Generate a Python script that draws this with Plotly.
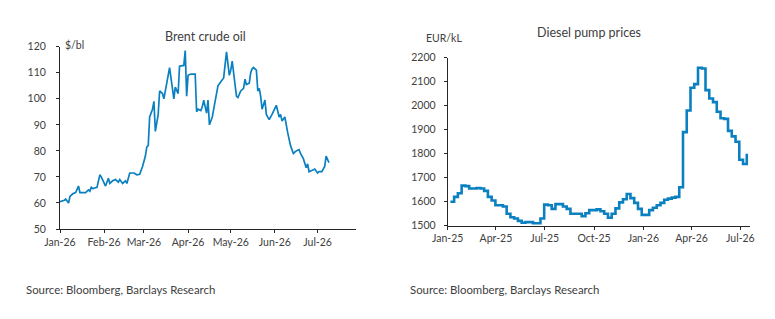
import plotly.graph_objects as go
import pandas as pd

# ---------------- Data ----------------
brent_dates = [
    "2026-01-01", "2026-01-04", "2026-01-05", "2026-01-07", "2026-01-08", "2026-01-10",
    "2026-01-12", "2026-01-14", "2026-01-15", "2026-01-17", "2026-01-19", "2026-01-21",
    "2026-01-22", "2026-01-23", "2026-01-24", "2026-01-27", "2026-01-29", "2026-01-30",
    "2026-02-02", "2026-02-04", "2026-02-05", "2026-02-07", "2026-02-09", "2026-02-11",
    "2026-02-12", "2026-02-14", "2026-02-16", "2026-02-17", "2026-02-19", "2026-02-22",
    "2026-02-24", "2026-02-26", "2026-02-28",
    "2026-03-02", "2026-03-03", "2026-03-04", "2026-03-05", "2026-03-07", "2026-03-08",
    "2026-03-09", "2026-03-11", "2026-03-12", "2026-03-14", "2026-03-15", "2026-03-18",
    "2026-03-19", "2026-03-21", "2026-03-22", "2026-03-23", "2026-03-25", "2026-03-26",
    "2026-03-29", "2026-03-30", "2026-03-31",
    "2026-04-01", "2026-04-03", "2026-04-06", "2026-04-07", "2026-04-08", "2026-04-10",
    "2026-04-11", "2026-04-12", "2026-04-14", "2026-04-15", "2026-04-16", "2026-04-18",
    "2026-04-19", "2026-04-22", "2026-04-24", "2026-04-26", "2026-04-28", "2026-04-30",
    "2026-05-01", "2026-05-02", "2026-05-05", "2026-05-06", "2026-05-08", "2026-05-10",
    "2026-05-11", "2026-05-12", "2026-05-14", "2026-05-15", "2026-05-16", "2026-05-17",
    "2026-05-19", "2026-05-20", "2026-05-21", "2026-05-22", "2026-05-23", "2026-05-25",
    "2026-05-26", "2026-05-28", "2026-05-30",
    "2026-06-02", "2026-06-04", "2026-06-05", "2026-06-06", "2026-06-08", "2026-06-10",
    "2026-06-12", "2026-06-14", "2026-06-16", "2026-06-18", "2026-06-19", "2026-06-21",
    "2026-06-23", "2026-06-24", "2026-06-25", "2026-06-27", "2026-06-29",
    "2026-07-01", "2026-07-02", "2026-07-04", "2026-07-06", "2026-07-07", "2026-07-08",
    "2026-07-09",
]
brent_values = [
    60.5, 61, 61.5, 60, 62.5, 63.5,
    64, 66.5, 64, 64, 64, 65,
    64.5, 66, 65.5, 66, 70.8, 70,
    66.5, 69.5, 67.5, 68.5, 69, 68,
    69, 67.5, 68.5, 67.5, 71.5, 71.5,
    70.8, 71, 74,
    78, 81.5, 82, 93, 96, 99,
    87.5, 94, 103, 102, 100, 108,
    112, 104, 100, 104.5, 102, 112.5,
    112.8, 118.5, 101,
    109, 109.5, 109.5, 95, 96, 95.5,
    97, 99.5, 94.5, 99.5, 90, 93,
    96, 105, 106.5, 108, 118, 109,
    111, 114.5, 101, 100.5, 103, 104,
    107.5, 105.5, 106, 110, 111.5, 112,
    111, 103, 104, 101, 96, 99.5,
    94, 92, 94,
    97.5, 93, 94, 91.5, 93, 87,
    82, 79, 80, 80.5, 79, 77,
    73.5, 75, 72, 72.5, 73,
    71.5, 72, 72, 74, 78, 76.5,
    75.5,
]

diesel_start = "2025-01-06"  # weekly observations (Mondays)
diesel_values = [
    1600, 1620, 1635, 1667, 1665, 1655, 1655, 1657, 1655, 1645,
    1620, 1605, 1585, 1585, 1580, 1550, 1535, 1530, 1520, 1512,
    1515, 1515, 1510, 1510, 1530, 1588, 1585, 1570, 1590, 1590,
    1580, 1570, 1550, 1550, 1550, 1540, 1552, 1565, 1565, 1568,
    1560, 1550, 1533, 1550, 1572, 1597, 1610, 1632, 1615, 1595,
    1570, 1545, 1545, 1565, 1575, 1585, 1595, 1608, 1613, 1617,
    1620, 1660, 1890, 1980, 2075, 2090, 2158, 2155, 2065, 2030,
    2015, 1975, 1948, 1945, 1895, 1872, 1850, 1775, 1757, 1800,
]
diesel_dates = pd.date_range(diesel_start, periods=len(diesel_values), freq="7D")

# ---------------- Style ----------------
W, H = 775, 319
BLUE = "#0a80c0"
TXT = "#404040"
AX = "#262626"
FONT = "Lato"

def px_x(x):
    return x / W

def px_y(y):
    return 1 - y / H

fig = go.Figure()
fig.add_trace(go.Scatter(x=brent_dates, y=brent_values, mode="lines",
                         line=dict(color=BLUE, width=1.7), xaxis="x", yaxis="y",
                         showlegend=False, hoverinfo="skip"))
fig.add_trace(go.Scatter(x=diesel_dates, y=diesel_values, mode="lines",
                         line=dict(color=BLUE, width=2.6, shape="hv"),
                         xaxis="x2", yaxis="y2", showlegend=False, hoverinfo="skip"))

axis_common = dict(showgrid=False, zeroline=False, showline=True, linecolor=AX,
                   linewidth=1, ticks="outside", ticklen=3, tickcolor=AX,
                   automargin=False,
                   tickfont=dict(family=FONT, size=10.5, color=TXT))

fig.update_layout(
    width=W, height=H,
    margin=dict(l=0, r=0, t=0, b=0),
    paper_bgcolor="white", plot_bgcolor="white",
    font=dict(family=FONT, color=TXT),
    xaxis=dict(domain=[px_x(60), px_x(356)], anchor="y",
               range=["2026-01-01", "2026-07-28"], tickformat="%b-%y",
               dtick="M1", tick0="2026-01-01", **axis_common),
    yaxis=dict(domain=[px_y(229), px_y(46.7)], anchor="x", range=[50, 120],
               dtick=10, ticklabelstandoff=8, **axis_common),
    xaxis2=dict(domain=[px_x(447.7), px_x(750)], anchor="y2",
                range=["2025-01-01", "2026-07-19"], tickformat="%b-%y",
                dtick="M3", tick0="2025-01-01", **axis_common),
    yaxis2=dict(domain=[px_y(225.7), px_y(57.7)], anchor="x2", range=[1500, 2200],
                dtick=100, ticklabelstandoff=6, **axis_common),
)

annos = [
    dict(text="Brent crude oil", x=px_x(205), y=px_y(36.5), xanchor="center",
         yanchor="middle", font=dict(size=12.5)),
    dict(text="Diesel pump prices", x=px_x(589), y=px_y(32.5), xanchor="center",
         yanchor="middle", font=dict(size=12.5)),
    dict(text="$/bl", x=px_x(63), y=px_y(45), xanchor="left", yanchor="middle",
         font=dict(size=10.5)),
    dict(text="EUR/kL", x=px_x(424), y=px_y(37.5), xanchor="left", yanchor="middle",
         font=dict(size=10.5)),
    dict(text="Source: Bloomberg, Barclays Research", x=px_x(24), y=px_y(289),
         xanchor="left", yanchor="middle", font=dict(size=11.4)),
    dict(text="Source: Bloomberg, Barclays Research", x=px_x(408), y=px_y(289),
         xanchor="left", yanchor="middle", font=dict(size=11.4)),
]
for a in annos:
    a.update(xref="paper", yref="paper", showarrow=False)
    a["font"].update(family=FONT, color=TXT)
fig.update_layout(annotations=annos)

fig.write_html("out.html")
